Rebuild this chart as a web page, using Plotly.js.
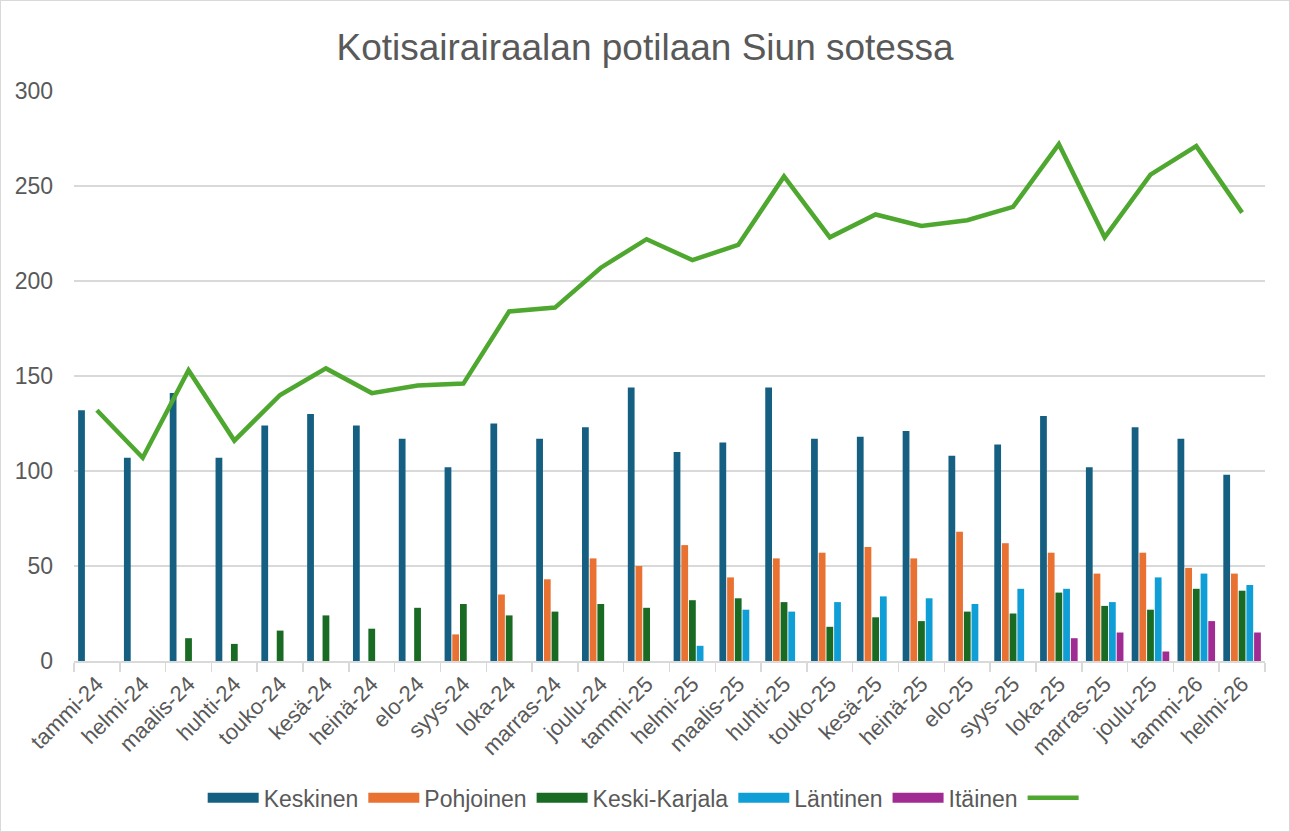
<!DOCTYPE html>
<html><head><meta charset="utf-8">
<script src="https://cdn.plot.ly/plotly-3.0.1.min.js"></script>
<style>
html,body{margin:0;padding:0;background:#fff;}
#chart{width:1288px;height:830px;border:1px solid #d9d9d9;}
</style></head>
<body><div id="chart"></div>
<script>
const months = ["tammi-24","helmi-24","maalis-24","huhti-24","touko-24","kesä-24","heinä-24","elo-24","syys-24","loka-24","marras-24","joulu-24","tammi-25","helmi-25","maalis-25","huhti-25","touko-25","kesä-25","heinä-25","elo-25","syys-25","loka-25","marras-25","joulu-25","tammi-26","helmi-26"];
const seriesNames  = ["Keskinen","Pohjoinen","Keski-Karjala","Läntinen","Itäinen"];
const keskinen     = [132,107,141,107,124,130,124,117,102,125,117,123,144,110,115,144,117,118,121,108,114,129,102,123,117,98];
const pohjoinen    = [0,0,0,0,0,0,0,0,14,35,43,54,50,61,44,54,57,60,54,68,62,57,46,57,49,46];
const keskiKarjala = [0,0,12,9,16,24,17,28,30,24,26,30,28,32,33,31,18,23,21,26,25,36,29,27,38,37];
const lantinen     = [0,0,0,0,0,0,0,0,0,0,0,0,0,8,27,26,31,34,33,30,38,38,31,44,46,40];
const itainen      = [0,0,0,0,0,0,0,0,0,0,0,0,0,0,0,0,0,0,0,0,0,12,15,5,21,15];
const yhteensa     = [132,107,153,116,140,154,141,145,146,184,186,207,222,211,219,255,223,235,229,232,239,272,223,256,271,236];

const FONT = "Liberation Sans, Arial, sans-serif";
const GREY = "#595959";
const colors = ["#156082","#E97132","#196B24","#0F9ED5","#A02B93"];
const values = [keskinen, pohjoinen, keskiKarjala, lantinen, itainen];

const traces = [];
values.forEach((v,i)=>{
  traces.push({type:"bar", name:seriesNames[i], x:months, y:v, marker:{color:colors[i]},
               showlegend:false, legendgroup:seriesNames[i]});
});
// legend entries drawn as wide rectangles (Excel style)
values.forEach((v,i)=>{
  traces.push({type:"scatter", mode:"lines", name:seriesNames[i], x:[null], y:[null],
               line:{color:colors[i], width:13}, legendgroup:seriesNames[i], hoverinfo:"skip"});
});
traces.push({type:"scatter", mode:"lines", name:"", x:months, y:yhteensa,
             line:{color:"#4EA72E", width:4.5}});

const layout = {
  width:1288, height:830,
  margin:{l:73, r:24, t:90, b:167, pad:0},
  paper_bgcolor:"#fff", plot_bgcolor:"#fff",
  font:{family:FONT, color:GREY},
  title:{text:"Kotisairairaalan potilaan Siun sotessa", font:{family:FONT, size:37, color:GREY}, x:0.5, xanchor:"center", y:0.944, yanchor:"middle"},
  barmode:"group", bargap:0.16, bargroupgap:0.12,
  showlegend:true,
  legend:{orientation:"h", x:0.48, xanchor:"center", y:-0.24, yanchor:"middle",
          font:{family:FONT, size:23, color:GREY}, itemwidth:51, traceorder:"normal", tracegroupgap:0},
  xaxis:{type:"category", tickangle:-45, tickfont:{family:FONT, size:22, color:GREY}, dtick:1, tickmode:"linear",
         showline:true, linecolor:"#d9d9d9", linewidth:1.5, ticks:"outside", tickson:"boundaries", ticklen:9, tickcolor:"#d9d9d9", tickwidth:1.5,
         showgrid:false, automargin:false, fixedrange:true},
  yaxis:{range:[0,300], dtick:50, tickfont:{family:FONT, size:23, color:GREY}, showgrid:true, gridcolor:"#d9d9d9", gridwidth:1.5,
         zeroline:false, showline:false, ticks:"", ticklabelstandoff:20, automargin:false}
};
Plotly.newPlot("chart", traces, layout, {displayModeBar:false, staticPlot:true});
</script></body></html>
